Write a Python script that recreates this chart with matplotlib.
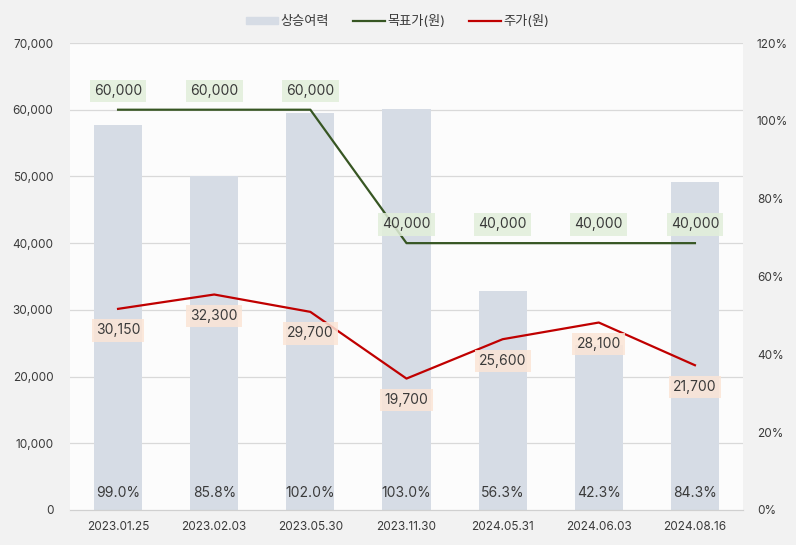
import numpy as np
import matplotlib.pyplot as plt
from matplotlib.patches import Patch
from matplotlib.lines import Line2D

plt.rcParams['font.family'] = ['Inter', 'Noto Sans CJK KR', 'DejaVu Sans']

dates = ["2023.01.25", "2023.02.03", "2023.05.30", "2023.11.30", "2024.05.31", "2024.06.03", "2024.08.16"]
upside = [99.0, 85.8, 102.0, 103.0, 56.3, 42.3, 84.3]
target = [60000, 60000, 60000, 40000, 40000, 40000, 40000]
price = [30150, 32300, 29700, 19700, 25600, 28100, 21700]

txt = "#3a3a3a"
fig = plt.figure(figsize=(7.96, 5.45), dpi=100, facecolor="#f2f2f2")
ax = fig.add_axes([70 / 796, 35 / 545, 673 / 796, 467 / 545])
ax2 = ax.twinx()
x = np.arange(len(dates))

# bars on right axis (%)
ax2.bar(x, upside, width=0.5, color="#d6dce5", zorder=1)
ax2.set_ylim(0, 120)
ax2.set_yticks(np.arange(0, 121, 20))
ax2.set_yticklabels([f"{v}%" for v in range(0, 121, 20)])
for xi, v in zip(x, upside):
    ax2.text(xi, 4.3, f"{v:.1f}%", ha="center", va="center", fontsize=10, color=txt)

# lines on left axis
ax.set_zorder(ax2.get_zorder() + 1)
ax.patch.set_visible(False)
ax2.patch.set_visible(True)
ax2.patch.set_facecolor("#fcfcfc")
ax.plot(x, target, color="#375623", lw=1.6, zorder=3)
ax.plot(x, price, color="#c00000", lw=1.6, zorder=3)
for xi, v in zip(x, target):
    ax.annotate(f"{v:,}", (xi, v), xytext=(0, 13.5), textcoords="offset points",
                ha="center", va="center", fontsize=10, color=txt,
                bbox=dict(boxstyle="square,pad=0.3", fc="#e2efda", ec="none", alpha=0.85))
for xi, v in zip(x, price):
    ax.annotate(f"{v:,}", (xi, v), xytext=(0, -15.5), textcoords="offset points",
                ha="center", va="center", fontsize=10, color=txt,
                bbox=dict(boxstyle="square,pad=0.3", fc="#fbe5d6", ec="none", alpha=0.85))

ax.set_xlim(-0.5, len(dates) - 0.5)
ax.set_ylim(0, 70000)
ax.set_yticks(np.arange(0, 70001, 10000))
ax.set_yticklabels([f"{v:,}" for v in range(0, 70001, 10000)])
ax.set_xticks(x)
ax.set_xticklabels(dates)
for v in range(10000, 70001, 10000):
    ax2.axhline(v / 70000 * 120, color="#d9d9d9", lw=0.9, zorder=0)

for a in (ax, ax2):
    for s in ("top", "right", "left"):
        a.spines[s].set_visible(False)
    a.spines["bottom"].set_color("#d0d0d0")
    a.tick_params(length=0, labelsize=8.5, labelcolor=txt)
ax.tick_params(axis="y", pad=12)
ax.tick_params(axis="x", pad=8)
ax2.tick_params(axis="y", pad=10)

handles = [Patch(color="#d6dce5"), Line2D([], [], color="#375623", lw=1.6),
           Line2D([], [], color="#c00000", lw=1.6)]
fig.legend(handles, ["상승여력", "목표가(원)", "주가(원)"], loc="center", bbox_to_anchor=(0.5, 0.96),
           ncol=3, frameon=False, fontsize=9.5, handlelength=2.4, handleheight=0.5,
           columnspacing=1.8, labelcolor=txt, handletextpad=0.2)

fig.savefig("out.png", dpi=100, facecolor=fig.get_facecolor())
